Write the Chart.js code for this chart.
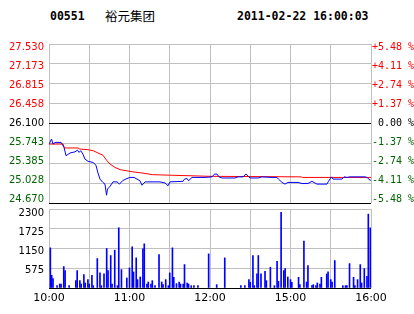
<!DOCTYPE html>
<html>
<head>
<meta charset="utf-8">
<script src="https://cdn.jsdelivr.net/npm/chart.js@4.4.1/dist/chart.umd.min.js"></script>
<style>
  body { margin: 0; background: #fff; width: 414px; height: 314px; overflow: hidden; position: relative; }
  .hdr { position: absolute; top: 9px; font: bold 11.5px "DejaVu Sans Mono", monospace; color: #000; white-space: pre; }
  #code { left: 50px; }
  #name { left: 105px; top: 6px; font: 12.5px "Noto Sans CJK SC", sans-serif; }
  #stamp { left: 237px; }
  canvas { position: absolute; left: 0; }
  #price { top: 0; }
  #vol { top: 196px; }
</style>
</head>
<body>
<div class="hdr" id="code">00551</div>
<div class="hdr" id="name">裕元集团</div>
<div class="hdr" id="stamp">2011-02-22 16:00:03</div>
<canvas id="price" width="414" height="214"></canvas>
<canvas id="vol" width="414" height="118"></canvas>
<script>
// minutes since 10:00 (12:30 -> 14:30 lunch gap removed)
const priceTimes = [0, 1.9, 3, 4.5, 9, 11.2, 12.7, 15.7, 19.4, 21.2, 22.4, 23.6, 25.3, 26.8, 29.1, 32.8, 35, 36.5, 38, 40.2,
  41.7, 42.9, 43.6, 45.5, 47.7, 50.7, 52.5, 54.8, 58.1, 60.4, 63.4, 65.6, 67.8, 69.3, 71.6, 82.7, 86.5, 88.7, 90.2, 99.9,
  101, 102.9, 104, 106.6, 116.3, 121.5, 123.4, 125.2, 126.7, 128.9, 138.6, 140.9, 144.6, 146.8, 148.3, 149.8, 155.8, 158.8, 166.2, 169.9,
  171, 173.7, 175.9, 178.1, 185.6, 188.6, 193, 196, 197.5, 199.7, 207.2, 208.3, 210.5, 211.7, 218.4, 219.9, 222.1, 224.3, 235.5, 237,
  239.3, 240];
const priceValues = [25.73, 25.82, 25.73, 25.76, 25.76, 25.67, 25.52, 25.57, 25.59, 25.62, 25.58, 25.61, 25.55, 25.46, 25.42, 25.40, 25.35, 25.21, 25.10, 25.04,
  25.01, 24.81, 24.92, 24.97, 25.05, 25.05, 25.01, 25.07, 25.11, 25.13, 25.13, 25.10, 25.07, 24.99, 25.05, 25.05, 25.03, 24.98, 25.05, 25.06,
  25.10, 25.11, 25.07, 25.13, 25.13, 25.14, 25.19, 25.19, 25.14, 25.12, 25.12, 25.14, 25.14, 25.19, 25.16, 25.12, 25.12, 25.14, 25.13, 25.13,
  25.10, 25.04, 25.01, 25.04, 25.04, 25.02, 25.02, 25.06, 25.04, 25.01, 25.01, 25.06, 25.14, 25.10, 25.10, 25.14, 25.13, 25.14, 25.14, 25.13,
  25.08, 25.08];

const avgTimes = [0, 10.5, 11.5, 21.6, 23, 29, 33, 36.5, 40.2, 43.2, 45.5, 49.2, 53, 62.6, 69.3, 77, 90, 120, 188, 189, 240];
const avgValues = [25.73, 25.73, 25.66, 25.66, 25.64, 25.63, 25.61, 25.57, 25.53, 25.43, 25.37, 25.31, 25.27, 25.23, 25.21, 25.18, 25.17, 25.15, 25.14, 25.13, 25.13];

const volTimes = [1, 2, 3, 6, 8, 9, 11, 12, 15, 20, 21, 23, 24, 26, 27, 29, 30, 32, 33, 36, 38, 39, 41, 43, 44, 46, 47, 49, 51, 52,
  54, 58, 60, 62, 63, 65, 66, 68, 70, 71, 73, 74, 76, 77, 79, 82, 84, 85, 87, 89, 90, 92, 93, 95, 97, 98, 100, 101, 103, 104,
  106, 108, 111, 119, 125, 131, 143, 146, 149, 150, 152, 153, 155, 156, 158, 161, 162, 165, 168, 170, 171, 173, 175, 176, 178, 180, 181, 186, 187, 190,
  192, 193, 196, 197, 199, 200, 202, 203, 207, 208, 210, 211, 213, 219, 221, 222, 224, 227, 228, 230, 232, 233, 235, 237, 238, 239.5];
const volValues = [1169, 370, 273, 68, 117, 117, 624, 507, 68, 214, 507, 214, 117, 390, 146, 244, 117, 370, 68, 858, 439, 68, 409, 1150, 507, 945, 117, 1101, 68, 1754,
  536, 292, 585, 1199, 468, 877, 244, 322, 1140, 1286, 117, 175, 117, 214, 68, 975, 175, 97, 244, 68, 439, 1169, 312, 127, 175, 117, 117, 682, 146, 117,
  68, 68, 68, 994, 97, 877, 68, 68, 244, 166, 945, 68, 409, 945, 409, 487, 214, 604, 68, 780, 195, 2200, 507, 565, 322, 244, 166, 312, 97, 1364,
  175, 653, 68, 97, 68, 146, 117, 312, 409, 468, 244, 175, 799, 68, 68, 68, 711, 312, 68, 244, 682, 146, 565, 341, 2150, 1754];

const prevClose = 26.100;
const priceTicks = [27.530, 27.173, 26.815, 26.458, 26.100, 25.743, 25.385, 25.028, 24.670];
const pctTicks = [5.48, 4.11, 2.74, 1.37, 0, -1.37, -2.74, -4.11, -5.48];
const volTicks = [2300, 1725, 1150, 575, 0];
const gridMinutes = [0, 30, 60, 90, 120, 150, 180, 210, 240];
const timeLabelMinutes = [0, 60, 120, 180, 240];
const timeLabels = ['10:00', '11:00', '12:00', '15:00', '16:00'];

const RED = '#ff0000';
const GREEN = '#006400';
const GRID = '#c0c0c0';
const axisFont = { family: 'DejaVu Sans', size: 10 };

const toPoints = (xs, ys) => xs.map((x, i) => ({ x: x, y: ys[i] }));
const fixTicks = list => scale => { scale.ticks = list.map(v => ({ value: v })); };
const upDownColor = (v, mid) => v > mid ? RED : (v < mid ? GREEN : '#000');

// the labels sit a little inside the outer grid lines, so they get their own
// axis with a slightly wider range than the one that draws the grid
new Chart(document.getElementById('price'), {
  type: 'line',
  data: {
    datasets: [
      { data: toPoints(priceTimes, priceValues), borderColor: '#0000ff', borderWidth: 1, pointRadius: 0, tension: 0, yAxisID: 'y' },
      { data: toPoints(avgTimes, avgValues), borderColor: RED, borderWidth: 1, pointRadius: 0, tension: 0, yAxisID: 'y' }
    ]
  },
  options: {
    responsive: false,
    animation: false,
    layout: { padding: { top: 44, bottom: 11, left: 0, right: 0 } },
    plugins: { legend: { display: false }, tooltip: { enabled: false } },
    scales: {
      x: {
        type: 'linear', min: 0, max: 240,
        afterBuildTicks: fixTicks(gridMinutes),
        afterFit: s => { s.height = 0; },
        ticks: { display: false },
        grid: { color: GRID, drawTicks: false },
        border: { display: false }
      },
      y: {
        position: 'left', min: 24.670, max: 27.530,
        afterBuildTicks: fixTicks(priceTicks),
        afterFit: s => { s.width = 0; },
        grid: { color: c => (c.tick && (c.tick.value === prevClose || c.tick.value === 24.670)) ? '#000' : GRID, drawTicks: false },
        border: { display: false },
        ticks: { display: false }
      },
      yLab: {
        position: 'left', min: 24.60, max: 27.60,
        afterBuildTicks: fixTicks(priceTicks),
        afterFit: s => { s.width = 49; },
        grid: { display: false, drawTicks: false },
        border: { display: false },
        ticks: {
          autoSkip: false, padding: 5, font: axisFont,
          color: c => upDownColor(c.tick.value, prevClose),
          callback: v => v.toFixed(3)
        }
      },
      yPct: {
        position: 'right', min: -5.75, max: 5.75,
        afterBuildTicks: fixTicks(pctTicks),
        afterFit: s => { s.width = 43; },
        grid: { display: false, drawTicks: false },
        border: { display: false },
        ticks: {
          autoSkip: false, padding: 1, font: { family: 'DejaVu Sans Mono', size: 10 },
          color: c => upDownColor(c.tick.value, 0),
          callback: v => (v > 0 ? '+' : (v < 0 ? '-' : ' ')) + Math.abs(v).toFixed(2) + ' %'
        }
      }
    }
  }
});

new Chart(document.getElementById('vol'), {
  type: 'bar',
  data: {
    datasets: [{ data: toPoints(volTimes, volValues), backgroundColor: '#0000ff', barThickness: 1, borderWidth: 0, yAxisID: 'y' }]
  },
  options: {
    responsive: false,
    animation: false,
    layout: { padding: { top: 13, bottom: 0, left: 0, right: 43 } },
    plugins: { legend: { display: false }, tooltip: { enabled: false } },
    scales: {
      x: {
        type: 'linear', min: 0, max: 240, offset: false,
        afterBuildTicks: fixTicks(gridMinutes),
        afterFit: s => { s.height = 26; },
        grid: { color: GRID, drawTicks: false, offset: false },
        border: { display: false },
        ticks: {
          autoSkip: false, maxRotation: 0, padding: 4, color: '#000', font: { family: 'DejaVu Sans', size: 11 },
          callback: v => { const i = timeLabelMinutes.indexOf(v); return i < 0 ? '' : timeLabels[i]; }
        }
      },
      y: {
        position: 'left', min: 0, max: 2300,
        afterBuildTicks: fixTicks(volTicks),
        afterFit: s => { s.width = 0; },
        grid: { color: c => (c.tick && c.tick.value === 0) ? '#000' : GRID, drawTicks: false },
        border: { display: false },
        ticks: { display: false }
      },
      yLab: {
        position: 'left', min: 30, max: 2420,
        afterBuildTicks: fixTicks(volTicks),
        afterFit: s => { s.width = 49; },
        grid: { display: false, drawTicks: false },
        border: { display: false },
        ticks: { autoSkip: false, padding: 5, color: '#000', font: axisFont, callback: v => v === 0 ? '' : String(v) }
      }
    }
  }
});
</script>
</body>
</html>
